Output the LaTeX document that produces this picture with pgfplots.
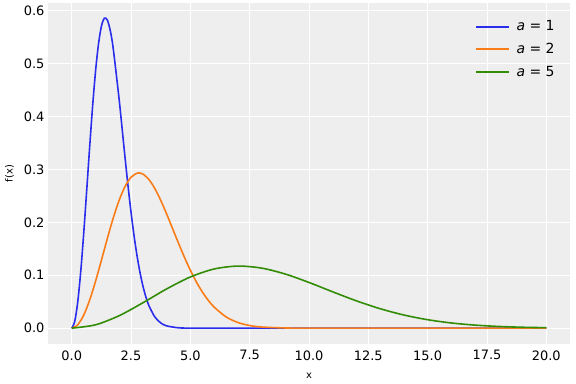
\documentclass[border=0pt]{standalone}
\usepackage{pgfplots}
\pgfplotsset{compat=1.18}
\usepackage{fontspec}
\setmainfont{DejaVu Sans}
\definecolor{bgc}{HTML}{EEEEEE}
\definecolor{mbblue}{HTML}{2A2EEC}
\definecolor{mborange}{HTML}{FA7C17}
\definecolor{mbgreen}{HTML}{328C06}
\begin{document}
\begin{tikzpicture}[x=1bp,y=1bp]
\begin{axis}[
  name=ax,
  scale only axis,
  width=522bp, height=341bp,
  xmin=-1, xmax=21, ymin=-0.03, ymax=0.615,
  axis background/.style={fill=bgc},
  axis line style={draw=none},
  major tick length=0pt,
  grid=major, grid style={white, line width=0.9pt},
  xtick={0,2.5,5,7.5,10,12.5,15,17.5,20},
  ytick={0,0.1,0.2,0.3,0.4,0.5,0.6},
  xticklabel style={yshift=-3bp, /pgf/number format/fixed, /pgf/number format/fixed zerofill, /pgf/number format/precision=1},
  yticklabel style={/pgf/number format/fixed, /pgf/number format/fixed zerofill, /pgf/number format/precision=1},
  /pgf/number format/assume math mode=true,
  tick label style={font=\fontsize{13}{15}\selectfont},
  label style={font=\fontsize{10}{12}\selectfont},
  xlabel={x}, ylabel={f(x)},
  xlabel style={yshift=-6bp},
  ylabel style={yshift=3bp},
  legend style={draw=none, fill=none, at={(0.99,0.96)}, anchor=north east, font=\fontsize{14}{16}\selectfont, row sep=7bp,
    nodes={inner xsep=7bp}},
  legend cell align=left,
  legend image code/.code={\draw[line width=2.2pt] (0bp,0bp) -- (33bp,0bp);},
]
\addplot[color=mbblue, line width=1.6pt, smooth, no marks] coordinates {
(0,0) (0.125,0.01237) (0.25,0.04833) (0.375,0.10459) (0.5,0.17603) (0.625,0.25637) (0.75,0.33878) (0.875,0.41657)
(1.0,0.48394) (1.125,0.53632) (1.25,0.57078) (1.375,0.58617) (1.5,0.58283) (1.625,0.56263) (1.75,0.52845)
(2.0,0.43192) (2.125,0.37687) (2.25,0.32137) (2.375,0.26814) (2.5,0.21910) (2.625,0.17535) (2.75,0.13754) (2.875,0.10577) (3.0,0.07977)
(3.125,0.05904) (3.25,0.04287) (3.5,0.02138) (3.75,0.00992) (4.0,0.00428) (4.5,0.00065) (5,0.000074) (6,0) (20,0)
};
\addlegendentry{\textit{a} = 1}
\addplot[color=mborange, line width=1.6pt, smooth, no marks] coordinates {
(0,0) (0.25,0.006185) (0.5,0.02417) (0.75,0.052293) (1,0.08802) (1.25,0.128187) (1.5,0.16939) (1.75,0.208296) (2,0.24197)
(2.25,0.268157) (2.5,0.28539) (2.75,0.293084) (2.83,0.29354) (3,0.29141) (3.25,0.281321)
(3.5,0.26423) (3.75,0.24184) (4,0.21596) (4.25,0.188433) (4.5,0.16068) (4.75,0.134084) (5,0.10955) (5.25,0.087676) (5.5,0.06877) (5.75,0.052883) (6,0.03989) (6.5,0.02143) (7,0.01069)
(7.5,0.00496) (8,0.00214) (9,0.00032) (10,0.000037) (12,0) (20,0)
};
\addlegendentry{\textit{a} = 2}
\addplot[color=mbgreen, line width=1.6pt, smooth, no marks] coordinates {
(0,0) (1,0.006257) (2,0.023569) (3,0.047985) (4,0.074161) (5,0.096788) (6,0.11185) (7,0.11738) (8,0.11358)
(9,0.10232) (10,0.086385) (11,0.068678) (12,0.051597) (13,0.036728) (14,0.024823) (15,0.015954)
(16,0.009765) (17,0.005698) (18,0.003172) (19,0.001685) (20,0.000856)
};
\addlegendentry{\textit{a} = 5}
\end{axis}
\pgfresetboundingbox
\path ([shift={(-48bp,-40bp)}]ax.south west) rectangle ([shift={(6bp,3bp)}]ax.north east);
\end{tikzpicture}
\end{document}
